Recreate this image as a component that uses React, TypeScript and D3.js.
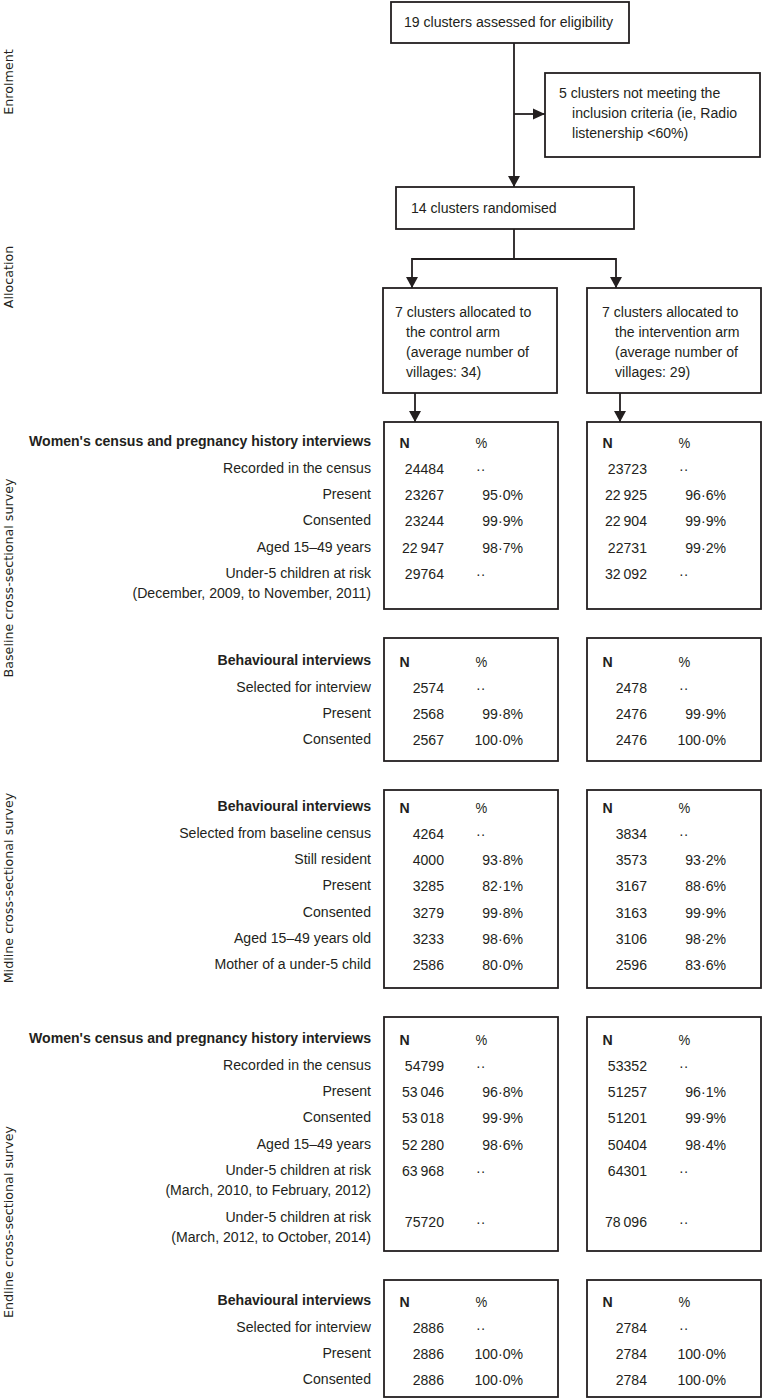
import React from "react";
import * as d3 from "d3";

const W = 762;
const H = 1399;

// ---- Flow texts ----
const assessedText = ["19 clusters assessed for eligibility"];
const excludedText = ["5 clusters not meeting the", "inclusion criteria (ie, Radio", "listenership <60%)"];
const randomisedText = ["14 clusters randomised"];
const controlArmText = ["7 clusters allocated to", "the control arm", "(average number of", "villages: 34)"];
const interventionArmText = ["7 clusters allocated to", "the intervention arm", "(average number of", "villages: 29)"];
const phaseLabels = ["Enrolment", "Allocation", "Baseline cross-sectional survey", "Midline cross-sectional survey", "Endline cross-sectional survey"];
const arms = ["control", "intervention"];
const colHeaders = ["N", "%"];

// ---- Baseline: women's census ----
const baseWomenTitle = "Women's census and pregnancy history interviews";
const baseWomenLabels = ["Recorded in the census", "Present", "Consented", "Aged 15–49 years", "Under-5 children at risk\n(December, 2009, to November, 2011)"];
const baseWomenCtrlN = ["24484", "23267", "23244", "22\u2009947", "29764"];
const baseWomenCtrlP = ["··", "95·0%", "99·9%", "98·7%", "··"];
const baseWomenIntN = ["23723", "22\u2009925", "22\u2009904", "22731", "32\u2009092"];
const baseWomenIntP = ["··", "96·6%", "99·9%", "99·2%", "··"];

// ---- Baseline: behavioural ----
const behavTitle = "Behavioural interviews";
const baseBehLabels = ["Selected for interview", "Present", "Consented"];
const baseBehCtrlN = ["2574", "2568", "2567"];
const baseBehCtrlP = ["··", "99·8%", "100·0%"];
const baseBehIntN = ["2478", "2476", "2476"];
const baseBehIntP = ["··", "99·9%", "100·0%"];

// ---- Midline: behavioural ----
const midLabels = ["Selected from baseline census", "Still resident", "Present", "Consented", "Aged 15–49 years old", "Mother of a under-5 child"];
const midCtrlN = ["4264", "4000", "3285", "3279", "3233", "2586"];
const midCtrlP = ["··", "93·8%", "82·1%", "99·8%", "98·6%", "80·0%"];
const midIntN = ["3834", "3573", "3167", "3163", "3106", "2596"];
const midIntP = ["··", "93·2%", "88·6%", "99·9%", "98·2%", "83·6%"];

// ---- Endline: women's census ----
const endWomenLabels = ["Recorded in the census", "Present", "Consented", "Aged 15–49 years", "Under-5 children at risk\n(March, 2010, to February, 2012)", "Under-5 children at risk\n(March, 2012, to October, 2014)"];
const endWomenCtrlN = ["54799", "53\u2009046", "53\u2009018", "52\u2009280", "63\u2009968", "75720"];
const endWomenCtrlP = ["··", "96·8%", "99·9%", "98·6%", "··", "··"];
const endWomenIntN = ["53352", "51257", "51201", "50404", "64301", "78\u2009096"];
const endWomenIntP = ["··", "96·1%", "99·9%", "98·4%", "··", "··"];

// ---- Endline: behavioural ----
const endBehLabels = ["Selected for interview", "Present", "Consented"];
const endBehCtrlN = ["2886", "2886", "2886"];
const endBehCtrlP = ["··", "100·0%", "100·0%"];
const endBehIntN = ["2784", "2784", "2784"];
const endBehIntP = ["··", "100·0%", "100·0%"];

// ---- Styles / layout ----
const FONT = "'Liberation Sans',Arial,sans-serif";
const SIDE_FONT = "'DejaVu Sans',Verdana,sans-serif";
const INK = "#231f20";
const STROKE = 1.8;
const FS = 15.5;
const SX = 0.91;
const ROW = 26.3;

const armX = d3.scaleOrdinal<string, number>().domain(arms).range([384, 587]);
const BOX_W = 174;
const LABEL_RIGHT = 371;

type Sec = {
  title: string;
  labels: string[];
  cN: string[];
  cP: string[];
  iN: string[];
  iP: string[];
  top: number;
  bottom: number;
  header: number;
};

const sections: Sec[] = [
  { title: baseWomenTitle, labels: baseWomenLabels, cN: baseWomenCtrlN, cP: baseWomenCtrlP, iN: baseWomenIntN, iP: baseWomenIntP, top: 422, bottom: 609, header: 441 },
  { title: behavTitle, labels: baseBehLabels, cN: baseBehCtrlN, cP: baseBehCtrlP, iN: baseBehIntN, iP: baseBehIntP, top: 638, bottom: 761, header: 660 },
  { title: behavTitle, labels: midLabels, cN: midCtrlN, cP: midCtrlP, iN: midIntN, iP: midIntP, top: 790, bottom: 988, header: 806 },
  { title: baseWomenTitle, labels: endWomenLabels, cN: endWomenCtrlN, cP: endWomenCtrlP, iN: endWomenIntN, iP: endWomenIntP, top: 1017, bottom: 1251, header: 1038 },
  { title: behavTitle, labels: endBehLabels, cN: endBehCtrlN, cP: endBehCtrlP, iN: endBehIntN, iP: endBehIntP, top: 1280, bottom: 1397, header: 1300 },
];

const phaseY = [82, 277, 578, 888, 1222];

function T({ x, y, children, anchor = "start", bold = false, size = FS }: { x: number; y: number; children: React.ReactNode; anchor?: string; bold?: boolean; size?: number }) {
  return (
    <text
      transform={`translate(${x},${y}) scale(${SX},1)`}
      dy="0.35em"
      textAnchor={anchor}
      fontFamily={FONT}
      fontWeight={bold ? "bold" : "normal"}
      fontSize={size}
      fill={INK}
      style={{ whiteSpace: "pre" }}
    >
      {children}
    </text>
  );
}

function Arrow({ x, y, dir }: { x: number; y: number; dir: "down" | "right" }) {
  const pts: [number, number][] =
    dir === "down"
      ? [[x - 6, y - 11], [x + 6, y - 11], [x, y]]
      : [[x - 12, y - 5.5], [x - 12, y + 5.5], [x, y]];
  return <path d={(d3.line()(pts) || "") + "Z"} fill={INK} />;
}

function Line({ pts }: { pts: [number, number][] }) {
  return <path d={d3.line()(pts) || ""} fill="none" stroke={INK} strokeWidth={STROKE} />;
}

function Box({ x0, y0, x1, y1 }: { x0: number; y0: number; x1: number; y1: number }) {
  return <rect x={x0} y={y0} width={x1 - x0} height={y1 - y0} fill="#fff" stroke={INK} strokeWidth={STROKE} />;
}

function TextLines({ lines, x, indentX, y0, step }: { lines: string[]; x: number; indentX: number; y0: number; step: number }) {
  return (
    <g>
      {lines.map((l, i) => (
        <T key={i} x={i === 0 ? x : indentX} y={y0 + i * step}>
          {l}
        </T>
      ))}
    </g>
  );
}

function Section({ s }: { s: Sec }) {
  const ys: number[] = [];
  let acc = 0;
  s.labels.forEach((l) => {
    ys.push(acc);
    acc += l.includes("\n") ? 1.78 : 1;
  });
  const y = d3.scaleLinear().domain([0, 1]).range([s.header + ROW, s.header + 2 * ROW]);
  const armData = [
    { arm: arms[0], N: s.cN, P: s.cP },
    { arm: arms[1], N: s.iN, P: s.iP },
  ];
  return (
    <g>
      <T x={LABEL_RIGHT} y={s.header} anchor="end" bold>
        {s.title}
      </T>
      {s.labels.map((l, i) =>
        l.split("\n").map((p, j) => (
          <T key={i + "-" + j} x={LABEL_RIGHT} y={y(ys[i]) + j * 20} anchor="end">
            {p}
          </T>
        ))
      )}
      {armData.map((a) => {
        const bx = armX(a.arm);
        return (
          <g key={a.arm}>
            <Box x0={bx} y0={s.top} x1={bx + BOX_W} y1={s.bottom} />
            <T x={bx + 15.5} y={s.header + 2} bold>
              {colHeaders[0]}
            </T>
            <T x={bx + 91.5} y={s.header + 2} size={FS - 1}>
              {colHeaders[1]}
            </T>
            {a.N.map((v, i) => {
              const late = s.labels[i].includes("\n") && i === s.labels.length - 1 && s.labels.length === 6;
              const yy = y(ys[i]) + (late ? 5 : 1);
              return (
                <g key={i}>
                  <T x={bx + 60} y={yy} anchor="end">
                    {v}
                  </T>
                  {a.P[i] === "··" ? (
                    <T x={bx + 92} y={yy}>
                      {a.P[i]}
                    </T>
                  ) : (
                    <T x={bx + 139} y={yy} anchor="end">
                      {a.P[i]}
                    </T>
                  )}
                </g>
              );
            })}
          </g>
        );
      })}
    </g>
  );
}

export default function App() {
  const cx = 514;
  const cA = armX(arms[0]);
  const iA = armX(arms[1]);
  return (
    <svg width={W} height={H} viewBox={`0 0 ${W} ${H}`} style={{ position: "absolute", left: 0, top: 0, background: "#fff" }}>
      <rect x={0} y={0} width={W} height={H} fill="#fff" />
      {phaseLabels.map((p, i) => (
        <text key={p} transform={`translate(13,${phaseY[i]}) rotate(-90)`} textAnchor="middle" fontFamily={SIDE_FONT} fontSize={12.7} fill={INK}>
          {p}
        </text>
      ))}

      {/* enrolment */}
      <Line pts={[[cx, 43], [cx, 187]]} />
      <Arrow x={cx} y={187} dir="down" />
      <Line pts={[[cx, 114], [545, 114]]} />
      <Arrow x={545} y={114} dir="right" />
      <Box x0={391} y0={2} x1={629} y1={43} />
      <TextLines lines={assessedText} x={404} indentX={404} y0={22} step={20} />
      <Box x0={545} y0={73} x1={760} y1={157} />
      <TextLines lines={excludedText} x={559} indentX={572} y0={93} step={20} />
      <Box x0={396} y0={187} x1={634} y1={229} />
      <TextLines lines={randomisedText} x={411} indentX={411} y0={208} step={20} />

      {/* allocation */}
      <Line pts={[[cx, 229], [cx, 259]]} />
      <Line pts={[[cA + 28, 288], [cA + 28, 259], [iA + 29, 259], [iA + 29, 288]]} />
      <Arrow x={cA + 28} y={288} dir="down" />
      <Arrow x={iA + 29} y={288} dir="down" />
      <Box x0={cA - 1} y0={288} x1={cA - 1 + BOX_W} y1={393} />
      <Box x0={iA} y0={288} x1={iA + BOX_W} y1={393} />
      <TextLines lines={controlArmText} x={395} indentX={406} y0={312} step={20} />
      <TextLines lines={interventionArmText} x={602} indentX={615} y0={312} step={20} />
      <Line pts={[[cA + 31, 393], [cA + 31, 422]]} />
      <Line pts={[[iA + 33, 393], [iA + 33, 422]]} />
      <Arrow x={cA + 31} y={422} dir="down" />
      <Arrow x={iA + 33} y={422} dir="down" />

      {sections.map((s, i) => (
        <Section key={i} s={s} />
      ))}
    </svg>
  );
}
